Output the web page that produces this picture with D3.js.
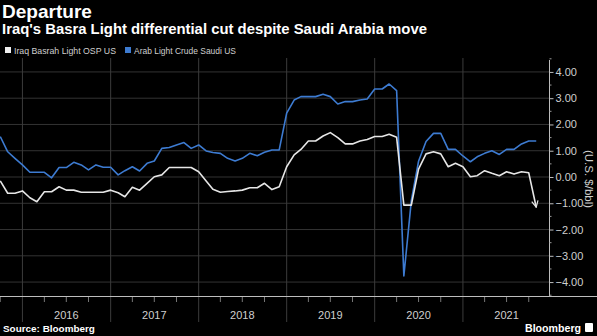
<!DOCTYPE html>
<html lang="en">
<head>
  <meta charset="UTF-8">
  <title>Departure</title>
  <style>
    html, body { margin: 0; padding: 0; background: #000; }
    svg { display: block; font-family: "Liberation Sans", Arial, sans-serif; }
  </style>
</head>
<body>
  <svg id="chart"></svg>
  <script src="https://cdn.jsdelivr.net/npm/d3@7"></script>
  <script>
    var W = 597, H = 336;

    // monthly series, Oct 2015 .. Nov 2021
    var startMonth = "2015-10";
    var arabLight = [
      1.54, 0.96, 0.71,
      0.46, 0.18, 0.18, 0.18, -0.03, 0.36, 0.36, 0.56, 0.46, 0.27, 0.46, 0.37,
      0.37, 0.08, 0.24, 0.39, 0.23, 0.52, 0.61, 1.09, 1.12, 1.22, 1.31, 1.09,
      1.22, 0.99, 0.93, 0.90, 0.71, 0.61, 0.71, 0.90, 0.81, 0.94, 1.03, 1.03,
      2.43, 2.93, 3.06, 3.06, 3.06, 3.15, 3.06, 2.78, 2.87, 2.87, 2.93, 2.97,
      3.35, 3.35, 3.54, 3.29, -3.77, -0.90, 0.60, 1.35, 1.66, 1.66, 1.05, 1.05,
      0.80, 0.58, 0.77, 0.90, 1.00, 0.86, 1.05, 1.05, 1.26, 1.37, 1.37
    ];
    var basrahLight = [
      -0.15, -0.62, -0.62,
      -0.53, -0.79, -0.94, -0.56, -0.56, -0.37, -0.50, -0.50, -0.58, -0.58, -0.58, -0.58,
      -0.50, -0.60, -0.75, -0.39, -0.50, -0.24, 0.01, 0.08, 0.36, 0.36, 0.36, 0.36,
      0.20, -0.15, -0.47, -0.58, -0.55, -0.53, -0.50, -0.41, -0.41, -0.24, -0.48, -0.37,
      0.39, 0.84, 1.05, 1.37, 1.37, 1.56, 1.69, 1.50, 1.26, 1.26, 1.37, 1.43,
      1.54, 1.54, 1.63, 1.51, -1.07, -1.07, 0.30, 0.88, 0.96, 0.88, 0.39, 0.52,
      0.39, 0.01, 0.05, 0.24, 0.14, 0.05, 0.20, 0.11, 0.20, 0.16, -1.15
    ];
    var yearLabels = ["2016", "2017", "2018", "2019", "2020", "2021"];
    var yTicks = [4, 3, 2, 1, 0, -1, -2, -3, -4];
    var legendNames = ["Iraq Basrah Light OSP US", "Arab Light Crude Saudi US"];

    var parseMonth = d3.timeParse("%Y-%m");
    var t0 = parseMonth(startMonth);
    var dates = arabLight.map((d, i) => d3.timeMonth.offset(t0, i));

    var svg = d3.select("#chart").attr("width", W).attr("height", H);
    svg.append("rect").attr("width", W).attr("height", H).attr("fill", "#000");

    var plot = { left: 0, right: 549, top: 58, bottom: 296 };

    var x = d3.scaleTime()
      .domain([new Date(2015, 8, 30), new Date(2021, 11, 24)])
      .range([plot.left, plot.right]);
    var y = d3.scaleLinear()
      .domain([-4.53, 4.53])
      .range([plot.bottom, plot.top]);

    // horizontal grid
    svg.append("g").selectAll("line")
      .data(yTicks)
      .enter().append("line")
        .attr("x1", plot.left).attr("x2", plot.right)
        .attr("y1", d => y(d)).attr("y2", d => y(d))
        .attr("stroke", "#333").attr("stroke-width", 1);

    // year gridlines + quarter ticks
    var years = yearLabels.map(s => new Date(+s, 0, 1));
    svg.append("g").selectAll("line")
      .data(years)
      .enter().append("line")
        .attr("x1", d => x(d)).attr("x2", d => x(d))
        .attr("y1", plot.top).attr("y2", 322)
        .attr("stroke", "#3c3c3c").attr("stroke-width", 1);

    var quarters = d3.timeMonth.every(3).range(new Date(2015, 9, 1), new Date(2021, 11, 24))
      .filter(d => d.getMonth() !== 0);
    svg.append("g").selectAll("line")
      .data(quarters)
      .enter().append("line")
        .attr("x1", d => x(d)).attr("x2", d => x(d))
        .attr("y1", plot.bottom).attr("y2", plot.bottom + 6)
        .attr("stroke", "#777").attr("stroke-width", 1);

    svg.append("g").selectAll("text")
      .data(yearLabels)
      .enter().append("text")
        .attr("x", d => x(new Date(+d, 6, 1)))
        .attr("y", 319)
        .attr("text-anchor", "middle")
        .attr("font-size", 11)
        .attr("fill", "#cfcfcf")
        .text(d => d);

    // bottom axis line
    svg.append("line")
      .attr("x1", 0).attr("x2", W)
      .attr("y1", plot.bottom + 0.5).attr("y2", plot.bottom + 0.5)
      .attr("stroke", "#bdbdbd").attr("stroke-width", 1);

    // right axis
    var yAxis = d3.axisRight(y)
      .tickValues(yTicks)
      .tickSize(4)
      .tickPadding(2)
      .tickFormat(d3.format(".2f"));
    var ax = svg.append("g")
      .attr("transform", "translate(" + (plot.right + 0.5) + ",0)")
      .call(yAxis);
    ax.select(".domain").attr("stroke", "#bdbdbd").attr("d", "M0," + (plot.top + 2) + "V" + plot.bottom);
    ax.selectAll(".tick line").attr("stroke", "#bdbdbd");
    ax.selectAll(".tick text")
      .attr("fill", "#cfcfcf")
      .attr("font-size", 11)
      .attr("font-family", "'Liberation Sans', Arial, sans-serif");

    var minor = d3.range(-4.5, 4.6, 0.5).filter(v => v % 1 !== 0);
    ax.append("g").selectAll("line")
      .data(minor)
      .enter().append("line")
        .attr("x1", 0).attr("x2", 2)
        .attr("y1", d => y(d)).attr("y2", d => y(d))
        .attr("stroke", "#999");

    svg.append("text")
      .attr("transform", "translate(585," + (y(0) + 2) + ") rotate(90)")
      .attr("text-anchor", "middle")
      .attr("font-size", 11.5)
      .attr("fill", "#cfcfcf")
      .text("(U.S. $/bbl)");

    // lines
    var line = d3.line()
      .x((d, i) => x(dates[i]))
      .y(d => y(d));

    svg.append("path")
      .datum(arabLight)
      .attr("d", line)
      .attr("fill", "none")
      .attr("stroke", "#3d7bd1")
      .attr("stroke-width", 1.6)
      .attr("stroke-linejoin", "round");

    svg.append("defs").append("marker")
      .attr("id", "arrow")
      .attr("viewBox", "0 0 10 10")
      .attr("refX", 9).attr("refY", 5)
      .attr("markerWidth", 5).attr("markerHeight", 5)
      .attr("markerUnits", "strokeWidth")
      .attr("orient", "auto")
      .append("path")
        .attr("d", "M1,1 L9,5 L1,9")
        .attr("fill", "none")
        .attr("stroke", "#e6e6e6")
        .attr("stroke-width", 1.5);

    svg.append("path")
      .datum(basrahLight)
      .attr("d", line)
      .attr("fill", "none")
      .attr("stroke", "#e6e6e6")
      .attr("stroke-width", 1.6)
      .attr("stroke-linejoin", "round")
      .attr("marker-end", "url(#arrow)");

    // header
    function fit(sel, width) {
      var w = sel.node().getComputedTextLength();
      var fs = parseFloat(sel.attr("font-size"));
      sel.attr("font-size", (fs * width / w).toFixed(2));
    }
    var title = svg.append("text")
      .attr("x", 2).attr("y", 18)
      .attr("font-size", 19).attr("font-weight", "bold")
      .attr("fill", "#fff")
      .text("Departure");
    fit(title, 90);

    var sub = svg.append("text")
      .attr("x", 2).attr("y", 34)
      .attr("font-size", 13).attr("font-weight", "bold")
      .attr("fill", "#fff")
      .text("Iraq's Basra Light differential cut despite Saudi Arabia move");
    fit(sub, 425);

    var legendColors = ["#f0f0f0", "#3d7bd1"];
    var legendX = [5, 125];
    var lg = svg.append("g").selectAll("g")
      .data(legendNames)
      .enter().append("g")
        .attr("transform", (d, i) => "translate(" + legendX[i] + ",0)");
    lg.append("rect")
      .attr("x", 0).attr("y", 47)
      .attr("width", 6).attr("height", 6)
      .attr("fill", (d, i) => legendColors[i]);
    lg.append("text")
      .attr("x", 9).attr("y", 53.5)
      .attr("font-size", 10)
      .attr("fill", "#cfcfcf")
      .text(d => d)
      .each(function() { fit(d3.select(this), 102); });

    // footer
    var src = svg.append("text")
      .attr("x", 3).attr("y", 332)
      .attr("font-size", 10).attr("font-weight", "bold")
      .attr("fill", "#fff")
      .text("Source: Bloomberg");
    fit(src, 92);

    var bb = svg.append("text")
      .attr("x", 525).attr("y", 332)
      .attr("font-size", 12).attr("font-weight", "bold")
      .attr("fill", "#fff")
      .text("Bloomberg");
    fit(bb, 56);
    svg.append("rect")
      .attr("x", 585).attr("y", 323).attr("width", 8).attr("height", 9)
      .attr("rx", 1)
      .attr("fill", "#fff");
  </script>
</body>
</html>
